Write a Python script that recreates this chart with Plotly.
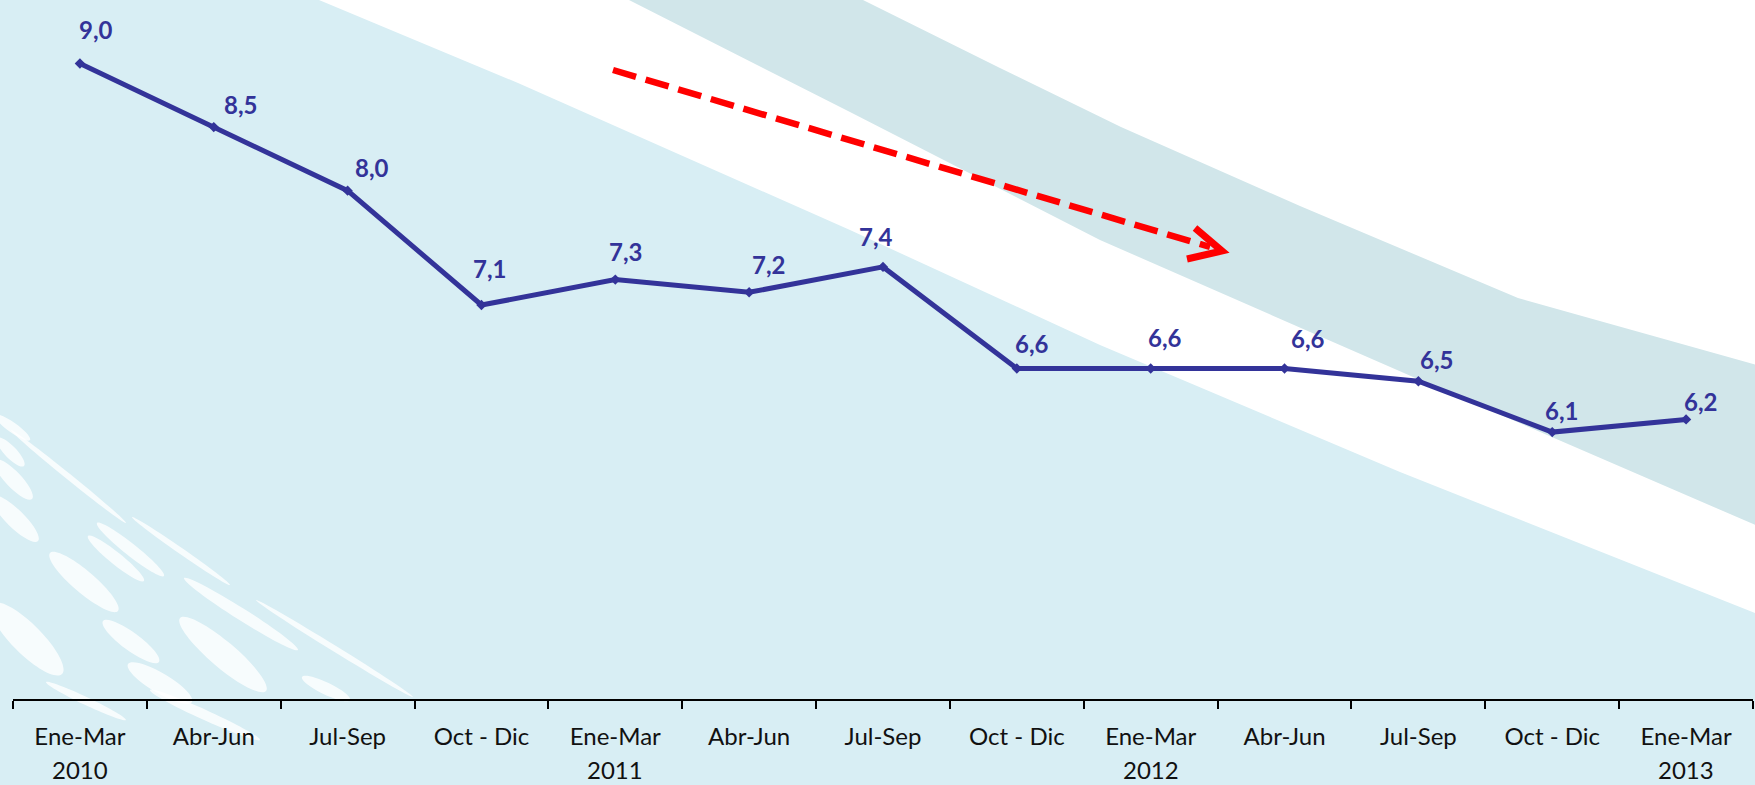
import math
import plotly.graph_objects as go

# ---------------- data ----------------
quarters = ["Ene-Mar", "Abr-Jun", "Jul-Sep", "Oct - Dic",
            "Ene-Mar", "Abr-Jun", "Jul-Sep", "Oct - Dic",
            "Ene-Mar", "Abr-Jun", "Jul-Sep", "Oct - Dic",
            "Ene-Mar"]
years = ["2010", "", "", "", "2011", "", "", "", "2012", "", "", "", "2013"]
values = [9.0, 8.5, 8.0, 7.1, 7.3, 7.2, 7.4, 6.6, 6.6, 6.6, 6.5, 6.1, 6.2]
value_labels = ["9,0", "8,5", "8,0", "7,1", "7,3", "7,2", "7,4",
                "6,6", "6,6", "6,6", "6,5", "6,1", "6,2"]

# label offsets (px) relative to each point
label_dx = [16, 27, 24, 8, 10, 19, -7, 15, 14, 23, 18, 9, 14]
label_dy = [34, 23, 23, 37, 28, 28, 30, 25, 31, 30, 22, 22, 18]

# ---------------- layout geometry ----------------
W, H = 1755, 785
ML, MR, MT, MB = 13, 2, 0, 86
PW, PH = W - ML - MR, H - MT - MB

LINE_COLOR = "#333399"
BG_LB = "#D8EEF4"
BG_TEAL = "#D1E6EA"


def px(x, y):
    return (x - ML) / PW, 1 - (y - MT) / PH


def poly_path(pts):
    s = ""
    for i, (x, y) in enumerate(pts):
        X, Y = px(x, y)
        s += ("M" if i == 0 else "L") + f"{X:.5f},{Y:.5f} "
    return s + "Z"


def ellipse_path(p1, p2, hw):
    cx, cy = (p1[0] + p2[0]) / 2, (p1[1] + p2[1]) / 2
    dx, dy = p2[0] - p1[0], p2[1] - p1[1]
    L = math.hypot(dx, dy)
    ux, uy = dx / L, dy / L
    nx, ny = -uy, ux
    a, b = L / 2, hw
    k = 0.5523

    def P(ca, cb):
        return px(cx + ca * ux + cb * nx, cy + ca * uy + cb * ny)

    segs = [
        (P(a, 0),),
        (P(a, k * b), P(k * a, b), P(0, b)),
        (P(-k * a, b), P(-a, k * b), P(-a, 0)),
        (P(-a, -k * b), P(-k * a, -b), P(0, -b)),
        (P(k * a, -b), P(a, -k * b), P(a, 0)),
    ]
    s = f"M{segs[0][0][0]:.5f},{segs[0][0][1]:.5f} "
    for sg in segs[1:]:
        s += "C" + " ".join(f"{x:.5f},{y:.5f}" for x, y in sg) + " "
    return s + "Z"


shapes = []
# white band region
white_pts = [(319, 0), (1760, 0), (1760, 615), (1400, 472), (1100, 345),
             (850, 230), (518, 83), (319, 0)]
shapes.append(dict(type="path", xref="paper", yref="paper", layer="below",
                   path=poly_path(white_pts), fillcolor="white",
                   line=dict(width=0)))
# teal band
teal_pts = [(629, 0), (863, 0), (1000, 68), (1121, 127), (1300, 206),
            (1518, 298), (1760, 366),
            (1760, 527), (1420, 380), (1100, 240), (850, 112), (629, 0)]
shapes.append(dict(type="path", xref="paper", yref="paper", layer="below",
                   path=poly_path(teal_pts), fillcolor=BG_TEAL,
                   line=dict(width=0)))

# decorative white ellipses (bottom-left)
ellipses = [
    ((-8, 604), (62, 674), 15), ((50, 553), (118, 611), 11),
    ((103, 621), (159, 662), 9), ((180, 618), (266, 691), 13),
    ((128, 664), (192, 702), 10), ((88, 536), (144, 581), 6),
    ((97, 523), (164, 576), 6), ((-8, 496), (38, 541), 9),
    ((-5, 460), (32, 499), 8), ((-3, 438), (24, 466), 6),
    ((11, 430), (126, 523), 3), ((132, 517), (230, 585), 3),
    ((184, 578), (298, 650), 6), ((256, 600), (413, 697), 3),
    ((302, 677), (350, 700), 6), ((-5, 415), (30, 440), 5),
    ((46, 682), (126, 720), 4), ((150, 690), (260, 740), 5),
]
for p1, p2, hw in ellipses:
    shapes.append(dict(type="path", xref="paper", yref="paper", layer="below",
                       path=ellipse_path(p1, p2, hw), fillcolor="white",
                       opacity=0.8, line=dict(width=0)))

# red dashed trend arrow
a0 = px(613, 70)
a1 = px(1210, 247)
shapes.append(dict(type="line", xref="paper", yref="paper", layer="above",
                   x0=a0[0], y0=a0[1], x1=a1[0], y1=a1[1],
                   line=dict(color="#FF0000", width=6.5, dash="24px,10px")))
h1, tip, h2 = px(1195, 228), px(1222, 251), px(1187, 259)
shapes.append(dict(type="path", xref="paper", yref="paper", layer="above",
                   path=f"M{h1[0]:.5f},{h1[1]:.5f} L{tip[0]:.5f},{tip[1]:.5f} L{h2[0]:.5f},{h2[1]:.5f}",
                   line=dict(color="#FF0000", width=7),
                   fillcolor="rgba(0,0,0,0)"))

x_idx = list(range(len(quarters)))

fig = go.Figure()
fig.add_trace(go.Scatter(
    x=x_idx, y=values, mode="lines+markers",
    line=dict(color=LINE_COLOR, width=5),
    marker=dict(symbol="diamond", size=8, color=LINE_COLOR),
    hoverinfo="skip", showlegend=False,
))

annotations = []
for i, (v, t) in enumerate(zip(values, value_labels)):
    annotations.append(dict(
        x=i, y=v, xref="x", yref="y", text=f"<b>{t}</b>", showarrow=False,
        xanchor="center", yanchor="middle",
        xshift=label_dx[i], yshift=label_dy[i],
        font=dict(family="Lato", size=24, color=LINE_COLOR),
    ))
for i, yr in enumerate(years):
    if yr:
        annotations.append(dict(
            x=i, y=-(770 - PH) / PH, xref="x", yref="paper", text=yr,
            showarrow=False, xanchor="center", yanchor="middle",
            font=dict(family="Lato", size=24, color="#111111"),
        ))

fig.update_layout(
    width=W, height=H,
    margin=dict(l=ML, r=MR, t=MT, b=MB, pad=0),
    paper_bgcolor=BG_LB, plot_bgcolor="rgba(0,0,0,0)",
    shapes=shapes, annotations=annotations,
    showlegend=False,
    xaxis=dict(
        type="linear", range=[-0.5, len(quarters) - 0.5],
        tickmode="array", tickvals=x_idx, ticktext=quarters,
        showgrid=False, zeroline=False,
        showline=True, linecolor="black", linewidth=1.5,
        ticks="", ticklabelstandoff=15,
        tickfont=dict(family="Lato", size=24, color="#111111"),
    ),
    yaxis=dict(range=[4.0, 9.5], visible=False, showgrid=False),
)

# boundary ticks on category edges
fig.update_xaxes(minor=dict(tickmode="array",
                            tickvals=[i - 0.5 for i in range(len(quarters) + 1)],
                            ticks="outside", ticklen=8, tickwidth=1.5,
                            tickcolor="black", showgrid=False))

fig.write_html(
    "out.html",
    config={"displayModeBar": False},
    post_script="document.body.style.margin='0';document.body.style.overflow='hidden';",
)
